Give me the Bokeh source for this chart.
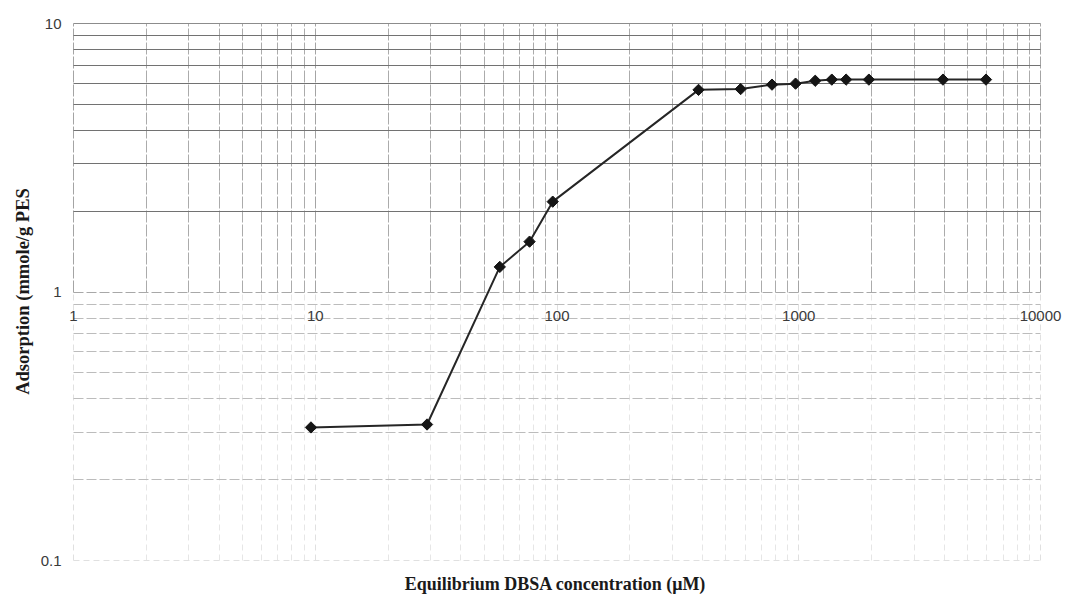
import math
from bokeh.plotting import figure
from bokeh.models import Range1d, FixedTicker, Grid, Label
from bokeh.embed import file_html
from bokeh.resources import INLINE

# data
conc = [9.6, 29, 58, 77, 96, 385, 575, 775, 970, 1170, 1370, 1570, 1950, 3950, 5950]
adsorption = [0.313, 0.321, 1.24, 1.54, 2.17, 5.66, 5.70, 5.92, 5.97, 6.12, 6.18, 6.18, 6.18, 6.18, 6.18]

x_ticks = [1, 10, 100, 1000, 10000]
x_tick_labels = ["1", "10", "100", "1000", "10000"]
y_ticks = [0.1, 1, 10]
y_tick_labels = ["0.1", "1", "10"]

x_title = "Equilibrium DBSA concentration (\u03bcM)"
y_title = "Adsorption (mmole/g PES"

# layout: the whole canvas is the frame; the ranges are padded so that
# the 1..10000 x 0.1..10 grid box sits where the reference has it
W, H = 1067, 600
box_left, box_right, box_top, box_bottom = 73, 1040, 23, 560   # canvas px
px_dec_x = (box_right - box_left) / 4.0
px_dec_y = (box_bottom - box_top) / 2.0
lx0 = 0 - box_left / px_dec_x
lx1 = 4 + (W - box_right) / px_dec_x
ly1 = 1 + box_top / px_dec_y
ly0 = -1 - (H - box_bottom) / px_dec_y

p = figure(width=W, height=H, x_axis_type="log", y_axis_type="log",
           x_range=Range1d(10 ** lx0, 10 ** lx1), y_range=Range1d(10 ** ly0, 10 ** ly1),
           x_axis_location=None, y_axis_location=None,
           toolbar_location=None, output_backend="svg",
           min_border=0, min_border_left=0, min_border_right=0,
           min_border_top=0, min_border_bottom=0)
p.outline_line_color = None
p.background_fill_color = "white"
p.border_fill_color = "white"

for g in list(p.center):
    if isinstance(g, Grid):
        p.center.remove(g)

def minors(decades):
    out = []
    for d in decades:
        out += [d * k for k in range(2, 10)]
    return out

xr = (x_ticks[0], x_ticks[-1])

# vertical grid, upper decade (darker) and lower decades (faint)
vg_top = Grid(dimension=0, ticker=FixedTicker(ticks=x_ticks, minor_ticks=minors(x_ticks[:-1])),
              cross_bounds=(y_ticks[1], y_ticks[2]),
              grid_line_color="#a4a4a4", grid_line_width=1, grid_line_dash="12 2",
              minor_grid_line_color="#ababab", minor_grid_line_width=1, minor_grid_line_dash="12 2")
vg_bot = Grid(dimension=0, ticker=FixedTicker(ticks=x_ticks, minor_ticks=minors(x_ticks[:-1])),
              cross_bounds=(y_ticks[0], y_ticks[1]),
              grid_line_color="#e0e0e0", grid_line_width=1, grid_line_dash="6 4",
              minor_grid_line_color="#e6e6e6", minor_grid_line_width=1, minor_grid_line_dash="6 4")

# horizontal grids, one per decade (scanned intensity fades downward)
hg_top = Grid(dimension=1, ticker=FixedTicker(ticks=[y_ticks[2]], minor_ticks=minors([y_ticks[1]])),
              cross_bounds=xr,
              grid_line_color="#8c8c8c", grid_line_width=1,
              minor_grid_line_color="#727272", minor_grid_line_width=1)
hg_mid = Grid(dimension=1, ticker=FixedTicker(ticks=[y_ticks[1]], minor_ticks=minors([y_ticks[0]])),
              cross_bounds=xr,
              grid_line_color="#a8a8a8", grid_line_width=1, grid_line_dash="10 3",
              minor_grid_line_color="#bcbcbc", minor_grid_line_width=1, minor_grid_line_dash="10 3")
hg_bot = Grid(dimension=1, ticker=FixedTicker(ticks=[y_ticks[0]], minor_ticks=[]),
              cross_bounds=xr,
              grid_line_color="#e0e0e0", grid_line_width=1, grid_line_dash="6 4")
for g in (vg_bot, vg_top, hg_bot, hg_mid, hg_top):
    p.add_layout(g, "center")

p.line(conc, adsorption, line_color="#262626", line_width=2)
p.scatter(conc, adsorption, marker="square", angle=math.pi / 4, size=8,
          fill_color="#151515", line_color="#151515")

tick_font = "Liberation Sans"
for v, t in zip(y_ticks, y_tick_labels):
    p.add_layout(Label(x=x_ticks[0], y=v, text=t, x_offset=-12, text_align="right",
                       text_baseline="middle", text_font=tick_font, text_font_size="15px",
                       text_color="#3a3a3a"))
for v, t in zip(x_ticks, x_tick_labels):
    p.add_layout(Label(x=v, y=y_ticks[1], text=t, y_offset=-24, text_align="center",
                       text_baseline="middle", text_font=tick_font, text_font_size="15px",
                       text_color="#3a3a3a"))

title_font = "Liberation Serif"
p.add_layout(Label(x=555, y=H - 583, x_units="screen", y_units="screen", text=x_title,
                   text_align="center", text_baseline="middle", text_font=title_font,
                   text_font_size="18px", text_font_style="bold", text_color="#1a1a1a"))
p.add_layout(Label(x=22, y=H - 291, x_units="screen", y_units="screen", text=y_title,
                   angle=math.pi / 2, text_align="center", text_baseline="middle",
                   text_font=title_font, text_font_size="18.5px", text_font_style="bold",
                   text_color="#1a1a1a"))

open("out.html", "w").write(file_html(p, INLINE))
